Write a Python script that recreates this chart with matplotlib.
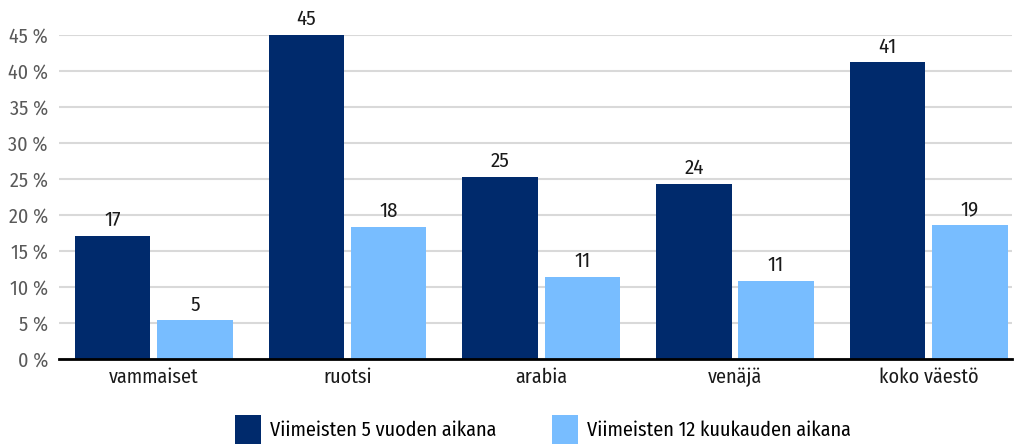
import matplotlib
matplotlib.use("Agg")
import matplotlib.pyplot as plt
import numpy as np

plt.rcParams['font.family'] = ['Fira Sans Condensed', 'Roboto Condensed', 'DejaVu Sans']

categories = ["vammaiset", "ruotsi", "arabia", "venäjä", "koko väestö"]
series_names = ["Viimeisten 5 vuoden aikana", "Viimeisten 12 kuukauden aikana"]
five_years = [17.1, 45.0, 25.3, 24.3, 41.2]
twelve_months = [5.4, 18.4, 11.4, 10.9, 18.6]
colors = ["#002A6C", "#78BDFF"]
yticks = [0, 5, 10, 15, 20, 25, 30, 35, 40, 45]

fig = plt.figure(figsize=(10.15, 4.46), dpi=100)
ax = fig.add_axes([59/1015, 1-359/446, (1012-59)/1015, (359-35)/446])

x = np.arange(len(categories))
w = 0.39
off = 0.212
b1 = ax.bar(x - off, five_years, w, color=colors[0], label=series_names[0], zorder=3)
b2 = ax.bar(x + off, twelve_months, w, color=colors[1], label=series_names[1], zorder=3)

for bars, vals in ((b1, five_years), (b2, twelve_months)):
    for r, v in zip(bars, vals):
        ax.annotate(f"{v:.0f}", (r.get_x() + r.get_width()/2, r.get_height()),
                    xytext=(0, 4), textcoords="offset points", ha="center", va="bottom",
                    fontsize=15, color="#1a1a1a", annotation_clip=False)

ax.set_xlim(-0.489, 4.43)
ax.set_ylim(0, 45)
ax.set_yticks(yticks)
ax.set_yticklabels([f"{t} %" for t in yticks], fontsize=14.5, color="#595959")
ax.set_xticks(x)
ax.set_xticklabels(categories, fontsize=14.5, color="#1a1a1a")
ax.tick_params(axis="y", length=0, pad=8)
ax.tick_params(axis="x", length=0, pad=6)
ax.grid(axis="y", color="#d9d9d9", linewidth=1.5, zorder=0)
for s in ["top", "right", "left"]:
    ax.spines[s].set_visible(False)
ax.spines["bottom"].set_color("#000000")
ax.spines["bottom"].set_linewidth(2)
ax.spines["bottom"].set_zorder(4)

fig.legend(handles=[b1, b2], labels=series_names, loc="lower center",
           bbox_to_anchor=(543/1015, -0.037), ncol=2, frameon=False, fontsize=14.5,
           handlelength=1.25, handleheight=1.9, columnspacing=2.8, handletextpad=0.45)

fig.savefig("out.png", dpi=100)
